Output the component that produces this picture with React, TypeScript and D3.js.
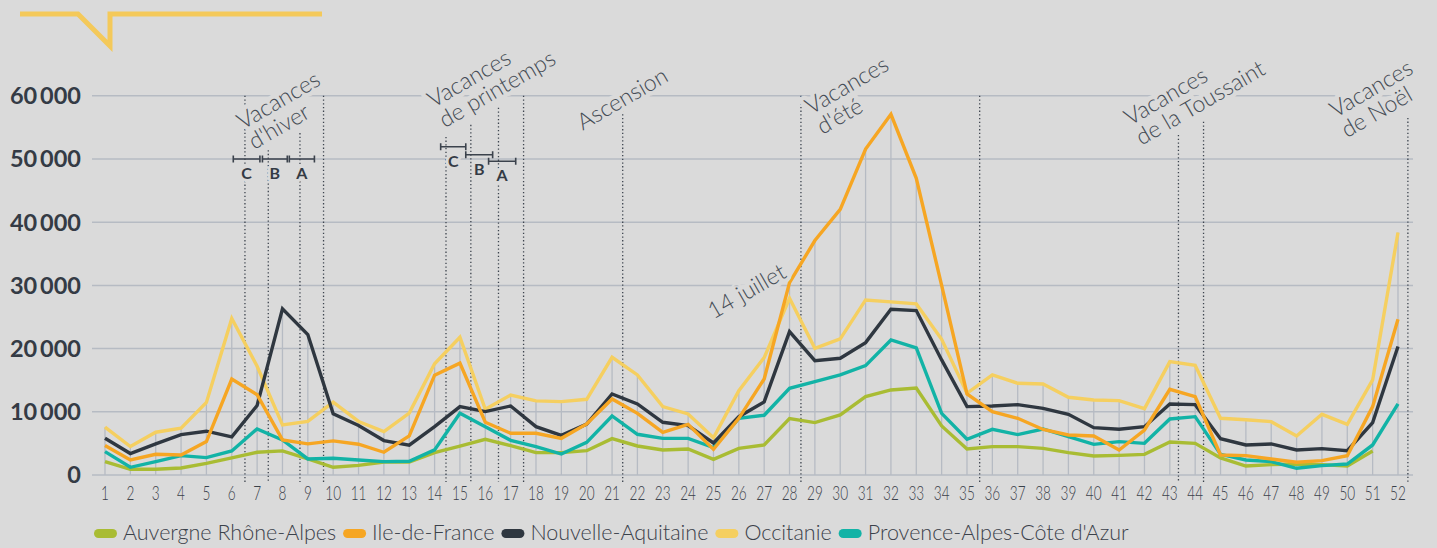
import React, { useEffect, useRef } from "react";
import * as d3 from "d3";

const weeks: number[] = d3.range(1, 53);

const auvergne: (number | null)[] = [2120, 900, 900, 1110, 1850, 2700, 3600, 3810, 2540, 1220, 1530, 2060, 2060, 3540, 4560, 5650, 4640, 3540, 3540, 3850, 5750, 4590, 3960, 4120, 2480, 4220, 4750, 8920, 8290, 9500, 12400, 13460, 13770, 7760, 4120, 4490, 4490, 4220, 3540, 3010, 3110, 3270, 5220, 5010, 2700, 1420, 1640, 1740, 1640, 1420, 3800, null];
const ileDeFrance: (number | null)[] = [4660, 2380, 3280, 3170, 5290, 15190, 12700, 5560, 4920, 5400, 4870, 3600, 6190, 15800, 17700, 8340, 6600, 6600, 5800, 8070, 12030, 9760, 6750, 8020, 4060, 8970, 15200, 30450, 37100, 42040, 51580, 57070, 46950, 30000, 12820, 10030, 8970, 7200, 6330, 6170, 3960, 7120, 13560, 12400, 3170, 3060, 2530, 2010, 2270, 3060, 10820, 24640];
const nouvelleAquitaine: (number | null)[] = [5820, 3390, 4920, 6400, 6930, 6030, 11000, 26300, 22220, 9680, 7830, 5450, 4710, 7670, 10830, 10030, 10920, 7650, 6280, 8070, 12820, 11240, 8340, 7810, 5060, 9230, 11560, 22690, 18100, 18470, 20950, 26230, 26020, 18210, 10820, 10920, 11130, 10550, 9600, 7490, 7230, 7650, 11240, 11130, 5750, 4750, 4910, 3960, 4170, 3850, 8290, 20320];
const occitanie: (number | null)[] = [7570, 4500, 6770, 7400, 11480, 24760, 17200, 7940, 8470, 11530, 8470, 6880, 9790, 17600, 21800, 10400, 12660, 11720, 11610, 11980, 18630, 15830, 10820, 9660, 5900, 13350, 18580, 27970, 20050, 21530, 27700, 27390, 27070, 21480, 12930, 15830, 14510, 14400, 12300, 11870, 11770, 10500, 17940, 17360, 8970, 8750, 8440, 6170, 9600, 8020, 15040, 38360];
const paca: (number | null)[] = [3700, 1220, 2120, 3070, 2750, 3810, 7300, 5560, 2540, 2650, 2380, 2120, 2170, 3970, 9770, 7650, 5490, 4490, 3320, 5170, 9340, 6440, 5800, 5800, 4350, 8970, 9450, 13720, 14780, 15830, 17310, 21370, 20110, 9760, 5650, 7230, 6390, 7280, 6070, 4850, 5280, 5010, 8870, 9230, 3270, 2370, 2110, 1060, 1480, 1740, 4750, 11240];

const seriesNames: string[] = ["Auvergne Rhône-Alpes", "Ile-de-France", "Nouvelle-Aquitaine", "Occitanie", "Provence-Alpes-Côte d'Azur"];
const seriesValues = [auvergne, ileDeFrance, nouvelleAquitaine, occitanie, paca];
const seriesColors: string[] = ["#a9bc33", "#f6a623", "#2f3740", "#f5cf60", "#12b3a6"];
const drawOrder: number[] = [3, 0, 4, 2, 1];

const yTickValues: number[] = [0, 10000, 20000, 30000, 40000, 50000, 60000];
const yTickLabels: string[] = ["0", "10\u2009000", "20\u2009000", "30\u2009000", "40\u2009000", "50\u2009000", "60\u2009000"];

// holiday markers: week position and top value
const markerWeeks: number[] = [6.52, 7.44, 8.69, 9.62, 14.45, 15.43, 16.52, 17.51, 21.42, 28.45, 35.5, 43.34, 44.33, 52.39];
const markerTops: number[] = [60000, 51400, 54100, 60000, 53500, 55400, 58100, 60000, 60000, 60000, 60000, 53800, 55900, 56500];

// annotation labels
const noteLines: string[][] = [["Vacances", "d'hiver"], ["Vacances", "de printemps"], ["Ascension"], ["Vacances", "d'été"], ["Vacances", "de la Toussaint"], ["Vacances", "de Noël"], ["14 juillet"]];
const noteWeeks: number[] = [6.43, 13.95, 19.84, 28.85, 41.43, 49.53, 25.0];
const noteValues: number[] = [54590, 58020, 54480, 56960, 55240, 56440, 24600];

// school zones
const zoneLabels: string[] = ["C", "B", "A", "C", "B", "A"];
const zoneStart: number[] = [6.06, 7.21, 8.27, 14.24, 15.23, 16.13];
const zoneEnd: number[] = [7.11, 8.19, 9.26, 15.23, 16.29, 17.2];
const zoneValue: number[] = [50000, 50000, 50000, 51950, 50680, 49650];

const BG = "#dadada";

export default function App() {
  const ref = useRef<SVGSVGElement | null>(null);

  useEffect(() => {
    document.body.style.margin = "0";
    document.body.style.background = BG;
    const svg = d3.select(ref.current);
    svg.selectAll("*").remove();

    const x = d3.scaleLinear().domain([1, 52]).range([105, 1398]);
    const y = d3.scaleLinear().domain([0, 60000]).range([475, 95.8]);

    svg.append("rect").attr("width", 1437).attr("height", 548).attr("fill", BG);

    // decoration
    svg.append("polyline")
      .attr("points", "20,14 78,14 110,46 110,14 322,14")
      .attr("fill", "none").attr("stroke", "#f4c95a").attr("stroke-width", 5)
      .attr("stroke-linejoin", "miter").attr("stroke-miterlimit", 10);

    // horizontal grid
    svg.append("g").selectAll("line").data(yTickValues).join("line")
      .attr("x1", 92).attr("x2", 1413)
      .attr("y1", (d) => y(d)).attr("y2", (d) => y(d))
      .attr("stroke", "#b6bbc3").attr("stroke-width", 1.5);

    // y labels
    svg.append("g").selectAll("text").data(yTickValues).join("text")
      .attr("x", 81).attr("y", (d) => y(d)).attr("dy", "0.36em")
      .attr("text-anchor", "end")
      .attr("font-family", "Lato").attr("font-weight", 700).attr("font-size", 23.5)
      .attr("fill", "#343b45")
      .text((d, i) => yTickLabels[i]);

    // vertical week lines up to max
    svg.append("g").selectAll("line").data(weeks).join("line")
      .attr("x1", (d) => x(d)).attr("x2", (d) => x(d))
      .attr("y1", y(0))
      .attr("y2", (d, i) => y(d3.max(seriesValues, (s) => (s[i] == null ? 0 : (s[i] as number))) as number))
      .attr("stroke", "#b6bbc3").attr("stroke-width", 1.3);

    // x tick labels
    svg.append("g").selectAll("text").data(weeks).join("text")
      .attr("transform", (d) => `translate(${x(d)},500) scale(0.68,1)`)
      .attr("text-anchor", "middle")
      .attr("font-family", "Lato").attr("font-weight", 300).attr("font-size", 20)
      .attr("fill", "#3a414a")
      .text((d) => String(d));

    // holiday markers
    svg.append("g").selectAll("line").data(markerWeeks).join("line")
      .attr("x1", (d) => x(d)).attr("x2", (d) => x(d))
      .attr("y1", (d, i) => y(markerTops[i])).attr("y2", 482)
      .attr("stroke", "#3d444e").attr("stroke-width", 1.3)
      .attr("stroke-dasharray", "1.3,2.4");

    // series
    const line = d3.line<number | null>()
      .defined((d) => d != null)
      .x((d, i) => x(weeks[i]))
      .y((d) => y(d as number))
      .curve(d3.curveLinear);
    drawOrder.forEach((k) => {
      svg.append("path").datum(seriesValues[k])
        .attr("d", line as any)
        .attr("fill", "none").attr("stroke", seriesColors[k])
        .attr("stroke-width", 3.4).attr("stroke-linejoin", "miter");
    });

    // zone brackets
    const zg = svg.append("g");
    zoneLabels.forEach((lab, i) => {
      const x1 = x(zoneStart[i]), x2 = x(zoneEnd[i]), yy = y(zoneValue[i]);
      zg.append("path")
        .attr("d", `M${x1},${yy - 3.5}V${yy + 3.5}M${x1},${yy}H${x2}M${x2},${yy - 3.5}V${yy + 3.5}`)
        .attr("fill", "none").attr("stroke", "#3b424c").attr("stroke-width", 1.6);
      zg.append("text")
        .attr("x", (x1 + x2) / 2).attr("y", yy + 20)
        .attr("text-anchor", "middle")
        .attr("font-family", "Lato").attr("font-weight", 700).attr("font-size", 16)
        .attr("fill", "#343b45")
        .attr("stroke", BG).attr("stroke-width", 6).attr("paint-order", "stroke")
        .attr("stroke-linejoin", "round")
        .text(lab);
    });

    // annotations
    const ag = svg.append("g");
    noteLines.forEach((lines, i) => {
      const t = ag.append("text")
        .attr("transform", `translate(${x(noteWeeks[i])},${y(noteValues[i])}) rotate(-30)`)
        .attr("font-family", "Lato").attr("font-weight", 300).attr("font-size", 23)
        .attr("fill", "#454c55")
        .attr("stroke", BG).attr("stroke-width", 9).attr("paint-order", "stroke")
        .attr("stroke-linejoin", "round");
      lines.forEach((l, j) => {
        t.append("tspan").attr("x", 0).attr("y", 0).attr("dy", j * 23).text(l);
      });
    });

    // legend
    const lg = svg.append("g");
    let lx = 94;
    seriesNames.forEach((name, i) => {
      lg.append("rect").attr("x", lx).attr("y", 529).attr("width", 23).attr("height", 9)
        .attr("rx", 4.5).attr("fill", seriesColors[i]);
      const tx = lg.append("text").attr("x", lx + 29).attr("y", 540)
        .attr("font-family", "Lato").attr("font-weight", 300).attr("font-size", 21.5)
        .attr("fill", "#3a414a").text(name);
      const w = (tx.node() as SVGTextElement).getComputedTextLength();
      lx = lx + 29 + w + 7;
    });
  }, []);

  return <svg ref={ref} width={1437} height={548} style={{ display: "block" }} />;
}
